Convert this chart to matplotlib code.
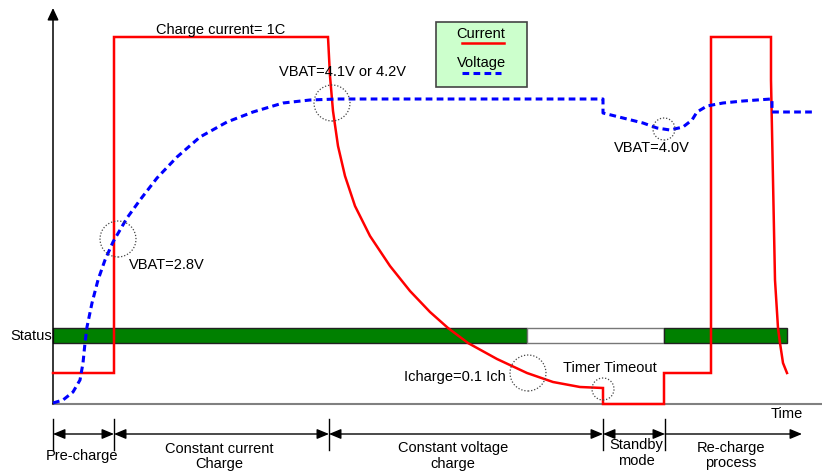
import matplotlib
matplotlib.use("Agg")
import matplotlib.pyplot as plt
from matplotlib.patches import Circle, Rectangle

plt.rcParams['font.family'] = ['Liberation Sans', 'DejaVu Sans']

# ---- data (time units ~ horizontal position, level units ~ height above time axis) ----
cur_t = [53, 114, 114, 328, 330, 333, 338, 345, 355, 370, 390, 410, 430, 448, 468, 497, 527, 553,
         580, 603, 603, 664, 664, 711, 711, 771, 771, 773, 775, 778, 780, 783, 787]
cur_v = [31, 31, 367, 367, 328, 293, 258, 228, 198, 168, 138, 113, 92, 76, 61, 45, 31, 22,
         17, 16, 0, 0, 31, 31, 367, 367, 324, 224, 124, 76, 61, 41, 31]

volt_t = [53, 63, 73, 80, 83, 85, 87, 92, 98, 105, 113, 127, 140, 157, 177, 200, 227, 253, 283,
          310, 337, 603, 603, 623, 643, 657, 670, 683, 692, 697, 707, 723, 743, 771, 772, 772, 812]
volt_v = [1, 4, 12, 24, 41, 61, 77, 101, 124, 144, 162, 186, 204, 226, 247, 267, 282, 292, 301,
          304, 305, 305, 291, 286, 281, 276, 274, 277, 284, 292, 298, 301, 303, 305, 305, 292, 292]

status_left = [53, 527, 664]
status_width = [474, 137, 123]
status_colors = ['#008000', 'white', '#008000']
status_edges = ['#222222', '#777777', '#222222']

phase_bounds = [53, 114, 329, 603, 665]
phase_end = 802
phase_labels = ['Pre-charge', 'Constant current\nCharge', 'Constant voltage\ncharge',
                'Standby\nmode', 'Re-charge\nprocess']
phase_label_x = [82, 219, 453, 636, 731]

marker_x = [332, 118, 664, 528, 603]
marker_y = [301, 165, 275, 31, 15]
marker_r = [18, 18, 11, 18, 11]

notes = ['Charge current= 1C', 'VBAT=4.1V or 4.2V', 'VBAT=2.8V', 'VBAT=4.0V',
         'Icharge=0.1 Ich', 'Timer Timeout']
note_x = [221, 342, 129, 614, 404, 563]
note_y = [374, 332, 139, 256, 27, 36]
note_ha = ['center', 'center', 'left', 'left', 'left', 'left']

FS = 10.5
fig = plt.figure(figsize=(8.22, 4.72), dpi=100)
ax = fig.add_axes([0, 0, 1, 1])
ax.set_xlim(0, 822)
ax.set_ylim(-68, 404)
ax.axis('off')

# time axis and level axis
ax.plot([53, 822], [0, 0], color='#808080', lw=1.5, zorder=1)
ax.annotate('', xy=(53, 396), xytext=(53, 0),
            arrowprops=dict(arrowstyle='-|>,head_length=0.6,head_width=0.28', color='black',
                            lw=1.1, shrinkA=0, shrinkB=0, mutation_scale=12))

# status bar
ax.barh([68.5] * 3, status_width, left=status_left, height=15, color=status_colors,
        edgecolor=status_edges, linewidth=1.0, zorder=2)
ax.text(52, 68, 'Status', ha='right', va='center', fontsize=FS)

# current and voltage
ax.plot(cur_t, cur_v, color='#FF0000', lw=1.8, zorder=4, solid_joinstyle='miter')
ax.plot(volt_t, volt_v, color='#0000FF', lw=2.2, linestyle=(0, (2.2, 1.4)), zorder=5)

# dotted circles
for cx, cy, r in zip(marker_x, marker_y, marker_r):
    ax.add_patch(Circle((cx, cy), r, fill=False, edgecolor='#444444', lw=0.9,
                        linestyle=(0, (1, 1.5)), zorder=6))

# notes
for s, x, y, ha in zip(notes, note_x, note_y, note_ha):
    ax.text(x, y, s, ha=ha, va='center', fontsize=FS, zorder=7)

ax.text(771, -10, 'Time', ha='left', va='center', fontsize=FS)

# legend box
ax.add_patch(Rectangle((436, 317), 91, 65, facecolor='#CCFFCC', edgecolor='#444444', lw=1.2, zorder=3))
ax.text(481, 370, 'Current', ha='center', va='center', fontsize=FS, zorder=4)
ax.plot([462, 504], [361, 361], color='#FF0000', lw=1.8, zorder=4)
ax.text(481, 341, 'Voltage', ha='center', va='center', fontsize=FS, zorder=4)
ax.plot([462, 501], [331, 331], color='#0000FF', lw=2.2, linestyle=(0, (2.2, 1.4)), zorder=4)

# phase ticks and arrows
for b in phase_bounds:
    ax.plot([b, b], [-15, -46], color='black', lw=1.0)
seg_ends = phase_bounds[1:] + [phase_end]
for i, (a, b) in enumerate(zip(phase_bounds, seg_ends)):
    style = '<|-|>' if i < len(phase_bounds) - 1 else '-|>'
    ax.annotate('', xy=(b, -30), xytext=(a, -30),
                arrowprops=dict(arrowstyle=style + ',head_length=0.6,head_width=0.25',
                                color='black', lw=1.0, shrinkA=0, shrinkB=0, mutation_scale=12))
phase_label_y = [-52, -52.5, -52, -49, -51.5]
for s, x, y in zip(phase_labels, phase_label_x, phase_label_y):
    ax.text(x, y, s, ha='center', va='center', fontsize=FS, linespacing=1.1)

fig.savefig('out.png', dpi=100)
